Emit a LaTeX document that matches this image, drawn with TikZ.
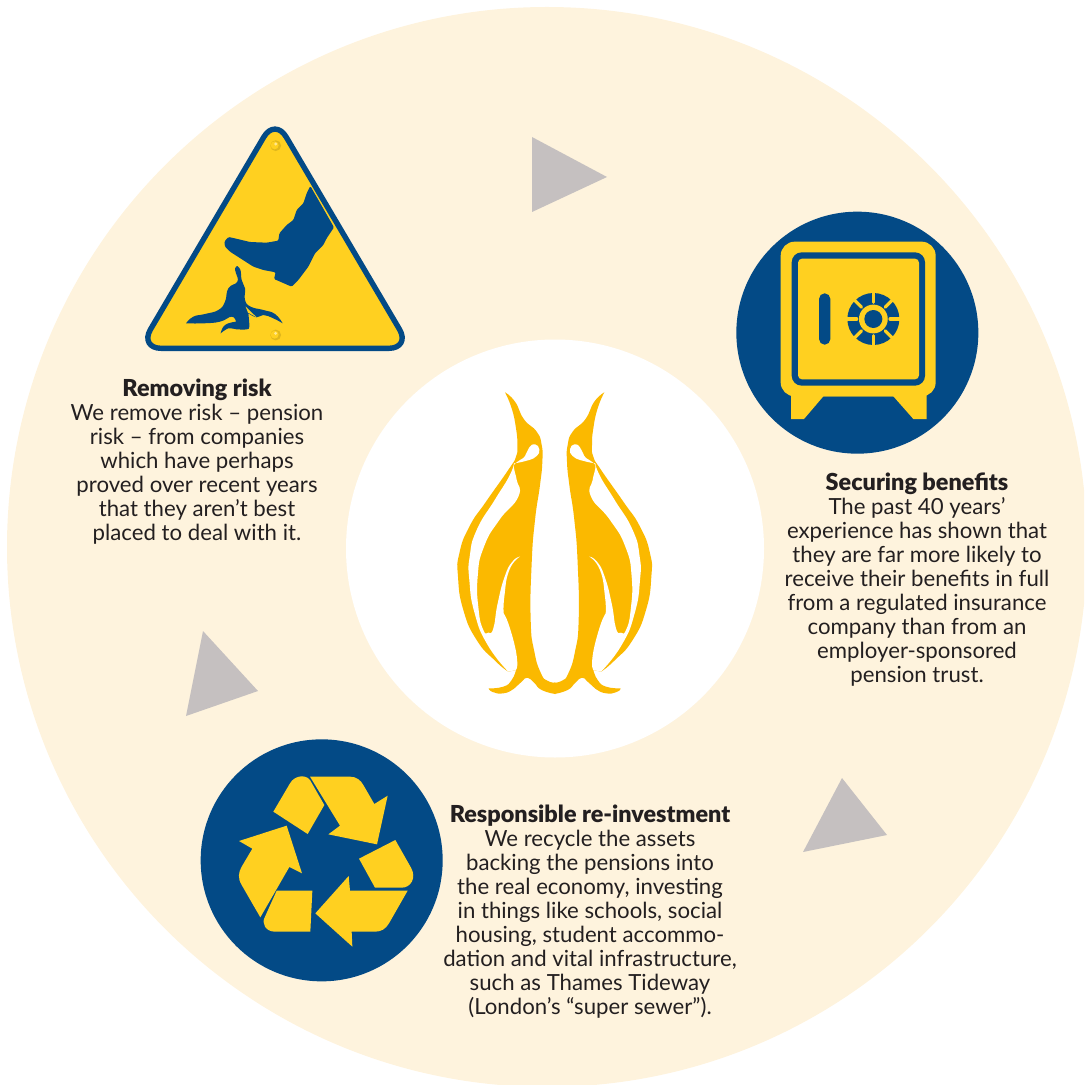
\documentclass[tikz,border=0pt]{standalone}
\usepackage{fontspec}
\setmainfont{Lato}[BoldFont={Lato Black}]
\definecolor{cream}{HTML}{FEF3DD}
\definecolor{navy}{HTML}{034A86}
\definecolor{signyellow}{HTML}{FFD020}
\definecolor{penguin}{HTML}{FBB900}
\definecolor{pointer}{HTML}{C5C0C0}
\definecolor{ink}{HTML}{231F20}
\newcommand{\headline}[1]{{\fontsize{11.7}{12}\selectfont\bfseries #1}}
\tikzset{
  pointerT/.style={fill=pointer},
  caption/.style={anchor=north,align=center,text=ink,font=\fontsize{11.1}{12}\selectfont,inner sep=0pt},
  zoomA/.style={shift={(130,110)},x=0.16667pt,y=-0.16667pt},
  zoomB/.style={shift={(440,380)},x=0.16667pt,y=-0.16667pt},
  zoomBm/.style={shift={(669.33,380)},x=-0.16667pt,y=-0.16667pt},
  zoomC/.style={shift={(730,205)},x=0.16667pt,y=-0.16667pt},
  zoomD/.style={shift={(195,735)},x=0.16667pt,y=-0.16667pt},
}
\newcommand{\penguinshape}{%
  \fill[penguin]
    plot[smooth,tension=.9] coordinates {(195,37) (225,65) (252,118) (290,155) (305,195) (307,245) (300,315) (285,420) (275,550) (272,720) (283,815) (303,880) (322,902) (346,908)}
    -- (346,942)
    -- plot[smooth,tension=.9] coordinates {(346,942) (305,930) (282,908) (262,893) (245,905) (222,926) (190,940) (158,936) (146,925)}
    -- plot[smooth,tension=.9] coordinates {(146,925) (190,920) (215,900) (228,870)}
    -- (205,875)
    -- plot[smooth,tension=.9] coordinates {(205,875) (165,842) (110,780) (70,690) (54,590) (58,520) (88,440) (138,365) (206,268) (228,230) (232,195) (228,145) (215,85) (195,37)}
    -- cycle;
  \fill[white]
    plot[smooth,tension=.9] coordinates {(205,875) (143,795) (104,700) (88,600) (89,530) (110,450) (164,360) (207,290) (222,250)}
    -- plot[smooth,tension=.9] coordinates {(222,250) (245,246) (268,240) (290,228) (298,208) (285,193) (268,202) (255,228) (240,240) (226,250) (222,265) (230,300) (235,350) (178,420) (132,500) (113,590) (116,690) (130,750) (145,758) (160,745) (173,670) (194,590) (217,545) (240,530)}
    -- plot[smooth,tension=.9] coordinates {(240,530) (208,570) (193,650) (191,700)}
    -- plot[smooth,tension=.7] coordinates {(191,700) (205,730) (225,800) (232,850) (228,870)}
    -- cycle;
}
\begin{document}
\begin{tikzpicture}[x=0.5pt,y=-0.5pt]
\useasboundingbox (0,0) rectangle (1084,1085);
\clip (0,0) rectangle (1084,1085);
\fill[cream] (547,547) circle[radius=270pt];
\fill[white] (555,548.5) circle[radius=104.5pt];

% pointers
\fill[pointerT] (532,137) -- (607,177) -- (532,212) -- cycle;
\fill[pointerT] (203,631) -- (258,691) -- (186,716) -- cycle;
\fill[pointerT] (842,778) -- (887,835) -- (803,852) -- cycle;

% warning sign
\begin{scope}[zoomA]
  \path[fill=signyellow,draw=navy,line width=2.7pt,rounded corners=11pt,line join=round]
    (435,24) -- (842,715) -- (28,715) -- cycle;
  \fill[navy,rounded corners=0.6pt] (541,228) -- (612,352) -- (590,385) -- (580,405) -- (555,430) -- (535,470) -- (520,490) -- (505,510) -- (485,530) -- (432,507) -- (437,487) -- (400,480) -- (370,470) -- (300,425) -- (285,410) -- (283,395) -- (295,381) -- (310,384) -- (360,396) -- (410,398) -- (445,392) -- (448,370) -- (470,345) -- (490,330) -- (500,300) -- (520,280) -- (530,250) -- cycle;
  \fill[navy]
    plot[smooth,tension=.8] coordinates {(322,468) (332,482) (335,510) (345,535) (345,570) (362,590) (400,600) (435,612) (458,640)}
    -- plot[smooth,tension=.8] coordinates {(458,640) (430,625) (400,615) (380,622) (355,610)}
    -- plot[smooth,tension=.6] coordinates {(355,610) (358,650) (350,658) (320,658) (295,655) (272,670)}
    -- plot[smooth,tension=.8] coordinates {(272,670) (285,645) (318,635)}
    -- plot[smooth,tension=.8] coordinates {(318,635) (305,620) (270,635) (220,640) (168,640)}
    -- plot[smooth,tension=.8] coordinates {(168,640) (190,620) (225,612) (265,600) (285,575) (295,535) (322,515) (318,490) (315,475) (322,468)}
    -- cycle;
  \fill[signyellow] (347,590) -- (380,622) -- (354,608) -- cycle;
  \foreach \ry in {107,675}{
    \fill[signyellow!88!black] (437,\ry) circle[radius=2.7pt];
    \fill[signyellow] (434,\ry-1) circle[radius=2pt];
    \fill[signyellow!50!white] (437,\ry-5) circle[radius=0.8pt];
  }
\end{scope}

% safe
\begin{scope}[zoomC]
  \fill[navy] (382,383) circle[radius=60.5pt];
  \fill[signyellow] (183,560) -- (183,642) -- (222,642) -- (280,574) -- (490,574) -- (550,642) -- (590,642) -- (590,560) -- cycle;
  \fill[signyellow,rounded corners=7pt] (152,110) rectangle (617,574);
  \fill[navy,rounded corners=5pt] (185,142) rectangle (585,542);
  \fill[signyellow,rounded corners=2pt] (204,161) rectangle (567,523);
  \fill[navy,rounded corners=2.8pt] (267,265) rectangle (301,419);
  \fill[navy] (430,342) circle[radius=13pt];
  \foreach \a in {0,45,...,315}{
    \draw[signyellow,line width=1.6pt,line cap=round] (430,342) ++(\a:50) -- ++(\a:40);
  }
  \fill[signyellow] (430,342) circle[radius=7.2pt];
  \fill[navy] (430,342) circle[radius=4.5pt];
\end{scope}

% recycling
\begin{scope}[zoomD]
  \fill[navy] (380,376) circle[radius=60.5pt];
  \fill[signyellow] (345,125) -- (465,125) .. controls (485,125) and (497,136) .. (505,150) -- (538,207) -- (578,182) -- (546,328) -- (400,298) -- (435,272) -- cycle;
  \fill[signyellow] (235,230) -- (285,145) .. controls (297,123) and (330,116) .. (345,135) -- (388,210) -- (338,297) -- cycle;
  \fill[signyellow] (275,272) -- (321,415) -- (283,396) -- (196,547) -- (140,450) .. controls (128,430) and (130,412) .. (140,395) -- (172,341) -- (132,318) -- cycle;
  \fill[signyellow] (245,467) -- (352,467) -- (346,590) -- (240,590) .. controls (212,590) and (198,565) .. (210,545) -- cycle;
  \fill[signyellow] (361,535) -- (461,423) -- (465,467) -- (638,467) -- (582,565) .. controls (572,582) and (558,590) .. (540,590) -- (470,590) -- (472,635) -- cycle;
  \fill[signyellow] (492,371) -- (601,315) -- (648,398) .. controls (665,428) and (648,458) .. (620,458) -- (540,458) -- cycle;
\end{scope}

% penguins
\begin{scope}[zoomB]\penguinshape\end{scope}
\begin{scope}[zoomBm]\penguinshape\end{scope}

% captions
\node[caption] (risk) at (197,379) {\headline{Removing risk}\\We remove risk – pension\\risk – from companies\\which have perhaps\\proved over recent years\\that they aren’t best\\placed to deal with it.};
\node[caption] (secure) at (917,472) {\headline{Securing benefits}\\The past 40 years’\\experience has shown that\\they are far more likely to\\receive their benefits in full\\from a regulated insurance\\company than from an\\employer-sponsored\\pension trust.};
\node[caption] (reinvest) at (590,805) {\headline{Responsible re-investment}\\We recycle the assets\\backing the pensions into\\the real economy, investing\\in things like schools, social\\housing, student accommo-\\dation and vital infrastructure,\\such as Thames Tideway\\(London’s “super sewer”).};
\end{tikzpicture}
\end{document}
